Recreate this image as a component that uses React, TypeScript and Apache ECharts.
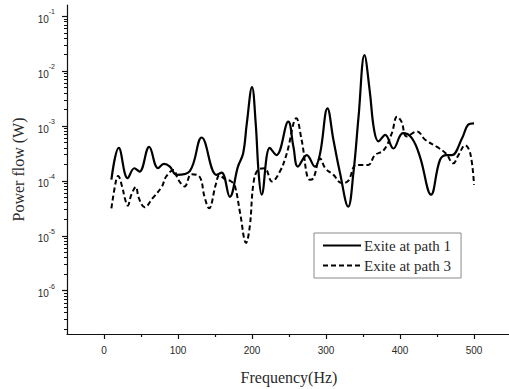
import React, { useEffect, useRef } from "react";
import * as echarts from "echarts";

// Excitation at path 1 (solid)
const freqPath1 = [10, 20, 32, 41, 48, 61, 73, 81, 89, 98, 116, 132, 152, 159, 170, 181, 188, 193, 200, 205, 209, 213, 224, 233, 249, 256, 262, 274, 285, 292, 302, 310, 319, 330, 337, 344, 352, 359, 365, 371, 380, 391, 404, 416, 427, 442, 454, 463, 470, 484, 492, 500];
const powerPath1 = [1.05e-4, 3.98e-4, 1.12e-4, 1.7e-4, 1.48e-4, 4.17e-4, 1.7e-4, 2.04e-4, 1.82e-4, 1.29e-4, 1.51e-4, 6.17e-4, 1.29e-4, 1.41e-4, 5.13e-5, 1.82e-4, 3.16e-4, 1.12e-3, 5.13e-3, 1.12e-3, 1.38e-4, 5.62e-5, 3.98e-4, 2.95e-4, 1.2e-3, 4.17e-4, 1.82e-4, 2.95e-4, 1.82e-4, 3.16e-4, 2.09e-3, 5.62e-4, 1.38e-4, 3.39e-5, 1.38e-4, 1.48e-3, 1.95e-2, 4.47e-3, 8.51e-4, 5.25e-4, 6.92e-4, 3.89e-4, 7.41e-4, 6.03e-4, 2.75e-4, 5.62e-5, 2.4e-4, 2.95e-4, 2.95e-4, 6.03e-4, 1.05e-3, 1.12e-3];

// Excitation at path 3 (dashed)
const freqPath3 = [10, 16, 19, 25, 28, 32, 37, 43, 47, 55, 66, 78, 84, 94, 100, 109, 118, 129, 136, 142, 151, 156, 164, 172, 177, 184, 192, 197, 202, 208, 217, 227, 238, 247, 260, 267, 278, 283, 292, 299, 310, 321, 330, 341, 357, 366, 378, 389, 396, 402, 409, 423, 434, 450, 462, 472, 479, 488, 495, 500];
const powerPath3 = [3.16e-5, 9.77e-5, 1.23e-4, 7.41e-5, 4.9e-5, 3.55e-5, 5.62e-5, 7.76e-5, 4.9e-5, 3.31e-5, 4.9e-5, 7.76e-5, 1.2e-4, 1.58e-4, 1.07e-4, 7.94e-5, 1.32e-4, 1.2e-4, 5.01e-5, 3.16e-5, 8.51e-5, 1.26e-4, 1.07e-4, 9.77e-5, 7.94e-5, 2.57e-5, 7.41e-6, 1.48e-5, 9.12e-5, 1.58e-4, 1.7e-4, 9.77e-5, 1.51e-4, 3.16e-4, 1.38e-3, 5.62e-4, 1.05e-4, 1.12e-4, 2.57e-4, 1.7e-4, 1.29e-4, 9.12e-5, 1.0e-4, 1.95e-4, 1.95e-4, 2.95e-4, 3.63e-4, 7.41e-4, 1.48e-3, 1.2e-3, 6.46e-4, 7.94e-4, 5.62e-4, 4.17e-4, 3.16e-4, 2.09e-4, 2.95e-4, 4.47e-4, 3.16e-4, 8.51e-5];

const seriesNames = ["Exite at path 1", "Exite at path 3"];

const xMajorTicks = [0, 100, 200, 300, 400, 500];
const xMinorTicks = [50, 150, 250, 350, 450];
const yMajorTicks = [1e-6, 1e-5, 1e-4, 1e-3, 1e-2, 1e-1];
const yDecades = [-7, -6, -5, -4, -3, -2, -1];
const yMultipliers = [2, 3, 4, 5, 6, 7, 8, 9];

const X_MIN = -50;
const X_MAX = 550;
const Y_MIN = Math.pow(10, -6.79);
const Y_MAX = Math.pow(10, -0.795);

const yMinorTicks: number[] = [];
yDecades.forEach((d) => {
  yMultipliers.forEach((k) => {
    const v = k * Math.pow(10, d);
    if (v > Y_MIN && v < Y_MAX) yMinorTicks.push(v);
  });
});

const SANS = "'Liberation Sans', Arial, sans-serif";
const SERIF = "'Liberation Serif', 'Times New Roman', serif";
const TEXT = "#2a2a2a";
const AXIS = "#111111";

export default function App() {
  const ref = useRef<HTMLDivElement>(null);
  useEffect(() => {
    if (!ref.current) return;
    const chart = echarts.init(ref.current, undefined, { renderer: "svg" });
    const line1 = freqPath1.map((f, i) => [f, powerPath1[i]]);
    const line3 = freqPath3.map((f, i) => [f, powerPath3[i]]);
    chart.setOption({
      animation: false,
      backgroundColor: "#ffffff",
      grid: { left: 67, top: 5, right: -2, bottom: 55, outerBoundsMode: "none" },
      legend: {
        orient: "vertical",
        left: 314,
        top: 233,
        width: 148,
        padding: [5, 10, 5, 8],
        itemGap: 5,
        itemWidth: 38,
        itemHeight: 14,
        borderColor: "#8a8a8a",
        borderWidth: 1,
        itemStyle: { color: "rgba(0,0,0,0)", borderWidth: 0, opacity: 0 },
        textStyle: { fontFamily: SERIF, fontSize: 15, color: TEXT, padding: [0, 0, 0, -2] },
        data: seriesNames,
      },
      xAxis: [
        {
          type: "value",
          min: X_MIN,
          max: X_MAX,
          name: "Frequency(Hz)",
          nameLocation: "middle",
          nameGap: 35,
          nameTextStyle: { fontFamily: SERIF, fontSize: 16, color: TEXT },
          axisLine: { show: true, onZero: false, lineStyle: { color: AXIS, width: 1.2 } },
          axisTick: { show: true, customValues: xMajorTicks, length: 5, lineStyle: { color: AXIS, width: 1.2 } },
          axisLabel: { customValues: xMajorTicks, margin: 11, fontFamily: SANS, fontSize: 10, color: TEXT },
          splitLine: { show: false },
        },
        {
          type: "value",
          min: X_MIN,
          max: X_MAX,
          position: "bottom",
          axisLine: { show: false, onZero: false },
          axisTick: { show: true, customValues: xMinorTicks, length: 3, lineStyle: { color: AXIS, width: 1.2 } },
          axisLabel: { show: false },
          splitLine: { show: false },
        },
      ],
      yAxis: [
        {
          type: "log",
          logBase: 10,
          min: Y_MIN,
          max: Y_MAX,
          name: "Power flow (W)",
          nameLocation: "middle",
          nameGap: 40,
          nameTextStyle: { fontFamily: SERIF, fontSize: 16, color: TEXT },
          axisLine: { show: true, onZero: false, lineStyle: { color: AXIS, width: 1.2 } },
          axisTick: { show: true, customValues: yMajorTicks, length: 5, lineStyle: { color: AXIS, width: 1.2 } },
          axisLabel: {
            customValues: yMajorTicks,
            margin: 12,
            formatter: (v: number) => `{b|10}{s|${Math.round(Math.log10(v))}}`,
            rich: {
              b: { fontFamily: SANS, fontSize: 10, color: TEXT, lineHeight: 16, verticalAlign: "bottom" },
              s: { fontFamily: SANS, fontSize: 7, color: TEXT, lineHeight: 16, verticalAlign: "top" },
            },
          },
          splitLine: { show: false },
          minorTick: { show: false },
        },
        {
          type: "log",
          logBase: 10,
          min: Y_MIN,
          max: Y_MAX,
          position: "left",
          axisLine: { show: false, onZero: false },
          axisTick: { show: true, customValues: yMinorTicks, length: 3, lineStyle: { color: AXIS, width: 1 } },
          axisLabel: { show: false },
          splitLine: { show: false },
        },
      ],
      series: [
        {
          name: seriesNames[0],
          type: "line",
          data: line1,
          smooth: 0.4,
          symbol: "none",
          showSymbol: false,
          lineStyle: { color: "#000", width: 2.2 },
          itemStyle: { color: "#000" },
        },
        {
          name: seriesNames[1],
          type: "line",
          data: line3,
          smooth: 0.4,
          symbol: "none",
          showSymbol: false,
          lineStyle: { color: "#000", width: 2, type: [5, 3] },
          itemStyle: { color: "#000" },
        },
      ],
    });
    return () => chart.dispose();
  }, []);
  return (
    <div
      ref={ref}
      style={{ position: "fixed", left: 0, top: 0, width: 509, height: 389, background: "#fff" }}
    />
  );
}
